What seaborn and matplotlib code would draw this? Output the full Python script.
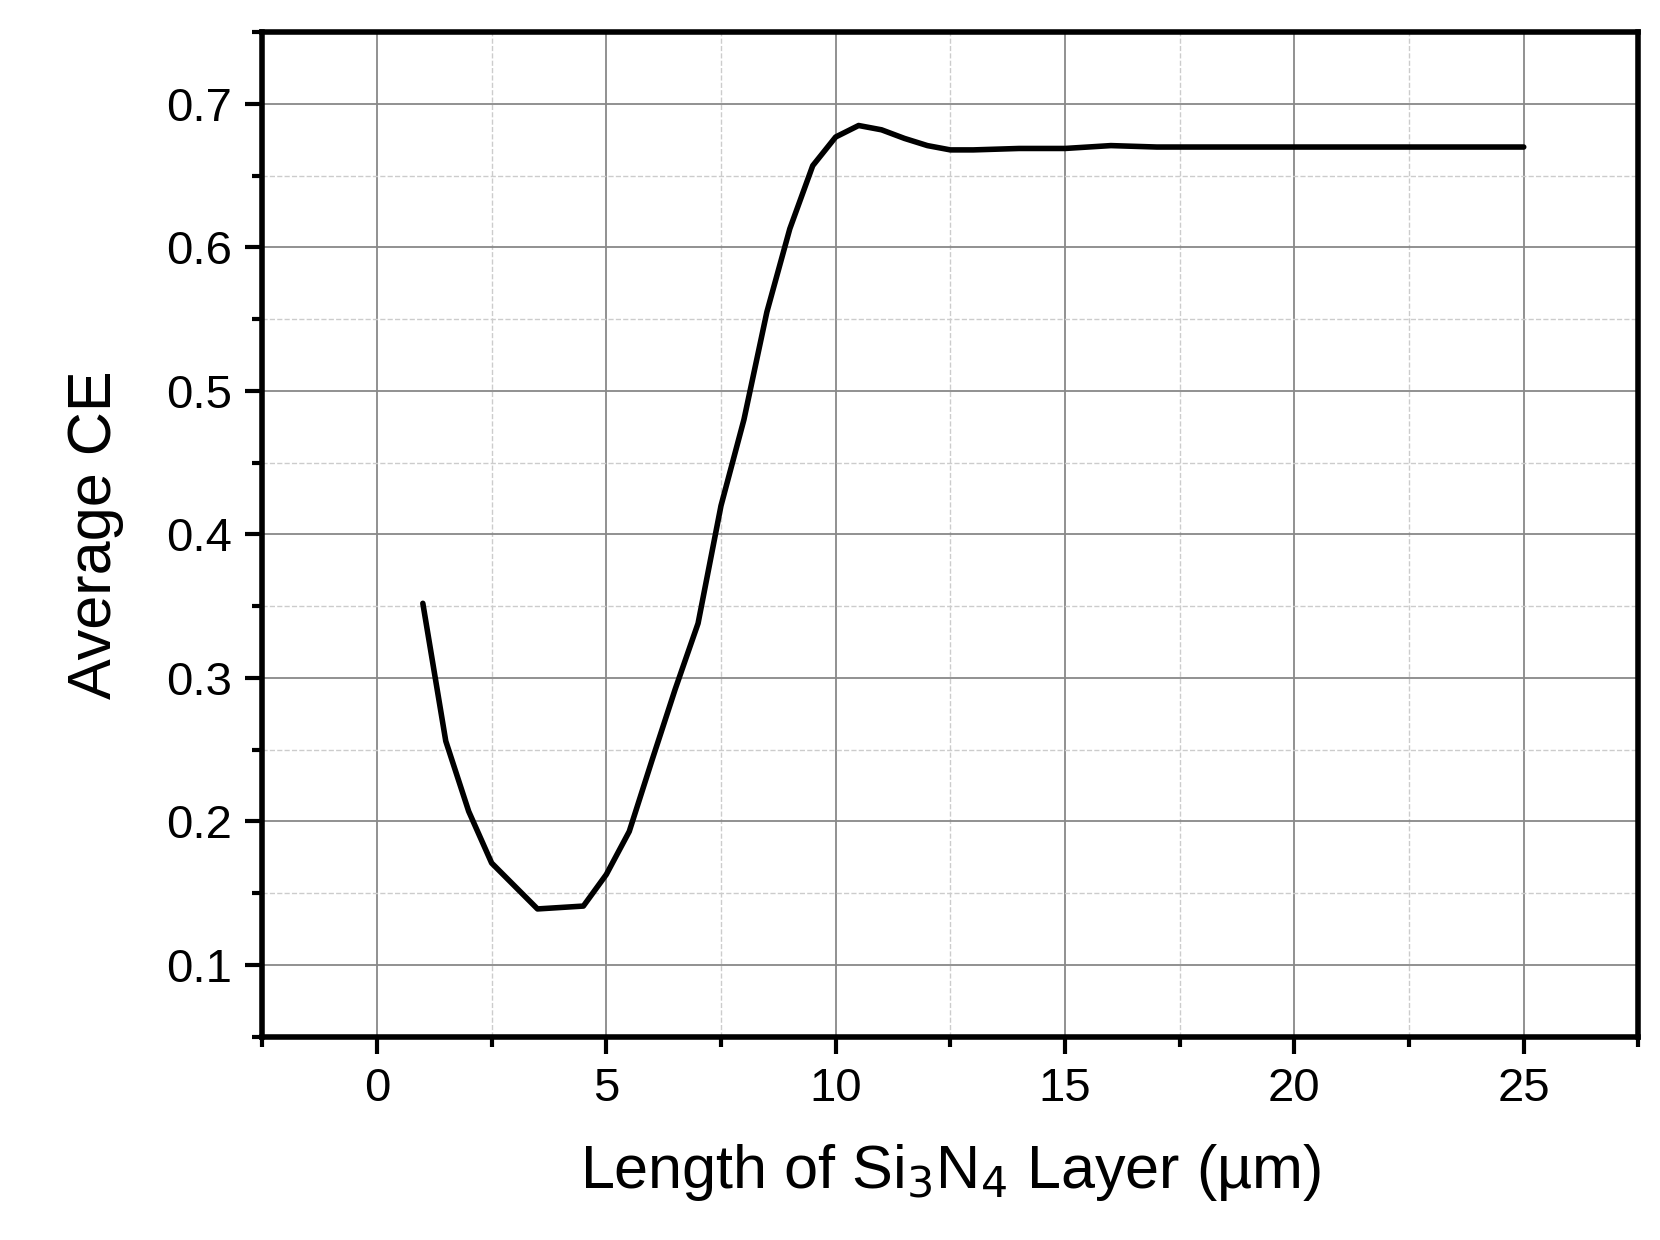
import matplotlib
matplotlib.use("Agg")
import matplotlib.pyplot as plt
import seaborn as sns
from matplotlib.ticker import MultipleLocator

length_um = [1, 1.5, 2, 2.5, 3, 3.5, 4, 4.5, 5, 5.5, 6, 6.5, 7, 7.5, 8, 8.5,
             9, 9.5, 10, 10.5, 11, 11.5, 12, 12.5, 13, 14, 15, 16, 17, 18,
             20, 22, 25]
avg_ce = [0.352, 0.256, 0.207, 0.171, 0.155, 0.139, 0.140, 0.141, 0.163,
          0.193, 0.243, 0.292, 0.338, 0.420, 0.480, 0.555, 0.613, 0.657,
          0.677, 0.685, 0.682, 0.676, 0.671, 0.668, 0.668, 0.669, 0.669,
          0.671, 0.670, 0.670, 0.670, 0.670, 0.670]

sns.set_style("white")
plt.rcParams["font.family"] = ["Liberation Sans", "DejaVu Sans"]
plt.rcParams["text.color"] = "black"
plt.rcParams["axes.labelcolor"] = "black"
plt.rcParams["xtick.color"] = "black"
plt.rcParams["ytick.color"] = "black"

fig = plt.figure(figsize=(16.6, 12.4), dpi=100)
ax = fig.add_axes([0.158, 0.164, 0.829, 0.81])
sns.lineplot(x=length_um, y=avg_ce, ax=ax, color="black", linewidth=4)

ax.set_xlim(-2.5, 27.5)
ax.set_ylim(0.05, 0.75)
ax.xaxis.set_major_locator(MultipleLocator(5))
ax.xaxis.set_minor_locator(MultipleLocator(2.5))
ax.yaxis.set_major_locator(MultipleLocator(0.1))
ax.yaxis.set_minor_locator(MultipleLocator(0.05))
ax.grid(which="major", color="#888888", linewidth=1.3, linestyle="-")
ax.grid(which="minor", color="#cccccc", linewidth=1, linestyle="--")
ax.set_axisbelow(True)

for s in ax.spines.values():
    s.set_linewidth(4)
    s.set_color("black")
ax.tick_params(which="major", direction="out", length=12, width=3,
               labelsize=34, bottom=True, left=True, top=False, right=False, pad=10)
ax.tick_params(which="minor", direction="out", length=7, width=3,
               bottom=True, left=True, top=False, right=False)

ax.set_xlabel(r"Length of Si$_3$N$_4$ Layer (µm)", fontsize=44, labelpad=22)
ax.set_ylabel("Average CE", fontsize=44, labelpad=30)

fig.savefig("out.png", dpi=100)
